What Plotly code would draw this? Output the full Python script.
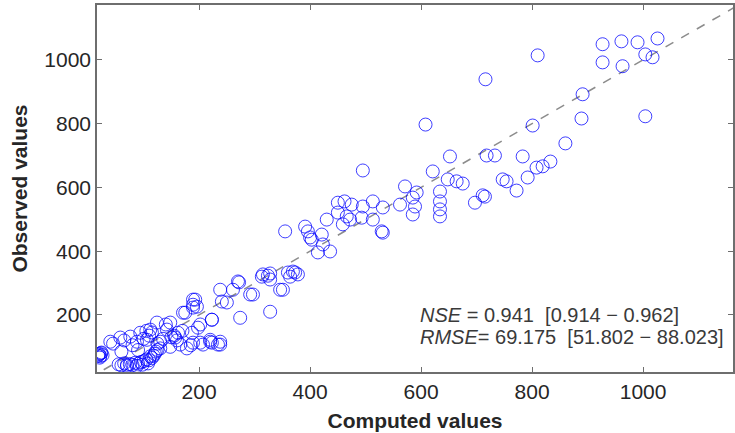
import plotly.graph_objects as go

# Computed (x) and observed (y) values
computed = [
    927, 961, 990, 1026, 927, 963, 1004, 1017, 891, 889, 1004, 810, 716, 608, 801,
    652, 718, 733, 621, 783, 860, 833, 819, 808, 792, 772, 754, 747, 711, 697, 715,
    648, 664, 675, 634, 634, 634, 634, 592, 585, 589, 585, 571, 562, 531, 531, 495,
    450, 475, 495, 513, 462, 450, 466, 472, 493, 513, 459, 430, 529, 391, 396, 400,
    421, 423, 436, 414, 403, 355, 373, 364, 378, 369, 351, 328, 313, 324, 328, 297,
    274, 261, 270, 238, 272, 292, 241, 250, 193, 196, 189, 175, 223, 198, 187, 207,
    238, 220, 315, 328, 360, 346, 202, 223, 234,
    18, 20, 22, 24, 19, 26, 21, 23,
    55, 60, 65, 70, 75, 80, 85, 90, 95, 100, 105, 110, 115, 118, 120, 122, 125, 112,
    108, 98, 88, 70,
    148, 171, 189, 189, 223, 202, 238, 220, 189, 166, 148, 130, 157, 162, 112, 94,
    76, 58, 40, 124, 142, 88, 106, 45, 65, 80, 100, 110, 135, 150, 160, 170, 178,
    185, 140, 130, 90, 60, 155, 115, 125, 105,
]
observed = [
    1049, 1058, 1055, 1067, 992, 980, 1017, 1008, 892, 816, 823, 1014, 939, 797, 794,
    697, 700, 700, 650, 697, 738, 681, 666, 662, 631, 590, 619, 625, 575, 552, 571,
    625, 619, 612, 587, 556, 531, 509, 584, 568, 540, 515, 603, 546, 537, 458, 653,
    552, 546, 540, 556, 556, 521, 509, 499, 505, 499, 484, 499, 462, 477, 462, 443,
    452, 421, 399, 396, 436, 462, 333, 320, 327, 336, 279, 210, 320, 323, 311, 264,
    191, 279, 305, 279, 302, 264, 242, 239, 248, 226, 223, 207, 185, 160, 144, 107,
    107, 122, 327, 330, 333, 279, 113, 113, 107,
    72, 78, 70, 82, 75, 74, 66, 80,
    45, 42, 48, 44, 46, 43, 50, 47, 52, 55, 60, 58, 65, 72, 78, 85, 90, 70,
    48, 44, 40, 40,
    176, 207, 232, 248, 185, 170, 116, 116, 113, 107, 100, 116, 129, 144, 154, 144,
    132, 129, 116, 176, 154, 116, 122, 110, 120, 105, 125, 135, 125, 130, 120, 150,
    95, 105, 170, 95, 90, 85, 135, 145, 110, 150,
]

x_ticks = [200, 400, 600, 800, 1000]
y_ticks = [200, 400, 600, 800, 1000]
x_range = [16, 1162]
y_range = [21, 1172]
one_to_one = [0, 1200]

nse_text = "<i>NSE</i> = 0.941\u00a0\u00a0[0.914 \u2212 0.962]"
rmse_text = "<i>RMSE</i>= 69.175\u00a0\u00a0[51.802 \u2212 88.023]"

font_family = "Arial, Liberation Sans, Helvetica, sans-serif"

fig = go.Figure()
fig.add_trace(go.Scatter(
    x=one_to_one, y=one_to_one, mode="lines",
    line=dict(color="#8c8c8c", width=1.5, dash="dash"),
    showlegend=False, hoverinfo="skip",
))
fig.add_trace(go.Scatter(
    x=computed, y=observed, mode="markers",
    marker=dict(symbol="circle-open", size=13, color="#0000ff",
                line=dict(width=1, color="#0000ff"), opacity=0.75),
    showlegend=False,
))

axis_common = dict(
    showgrid=False, zeroline=False, showline=True, mirror="ticks",
    linecolor="#6e6e6e", linewidth=1.5, ticks="inside", ticklen=5,
    tickcolor="#6e6e6e", automargin=False,
    tickfont=dict(size=21, color="#262626", family=font_family),
)

fig.update_layout(
    width=735, height=433,
    margin=dict(l=97, r=2, t=5, b=61),
    paper_bgcolor="white", plot_bgcolor="white",
    font=dict(family=font_family),
    xaxis=dict(range=x_range, tickvals=x_ticks,
               title=dict(text="<b>Computed values</b>", standoff=11,
                          font=dict(size=21, color="#262626", family=font_family)),
               **axis_common),
    yaxis=dict(range=y_range, tickvals=y_ticks,
               title=dict(text="<b>Observed values</b>", standoff=11,
                          font=dict(size=21, color="#262626", family=font_family)),
               **axis_common),
    annotations=[
        dict(text=nse_text, xref="paper", yref="paper", x=0.505, y=0.155,
             xanchor="left", yanchor="middle", align="left", showarrow=False,
             font=dict(size=20, color="#3a3a3a", family=font_family)),
        dict(text=rmse_text, xref="paper", yref="paper", x=0.505, y=0.095,
             xanchor="left", yanchor="middle", align="left", showarrow=False,
             font=dict(size=20, color="#3a3a3a", family=font_family)),
    ],
)

fig.write_html("out.html", config={"displayModeBar": False},
               post_script="document.body.style.margin='0';")
